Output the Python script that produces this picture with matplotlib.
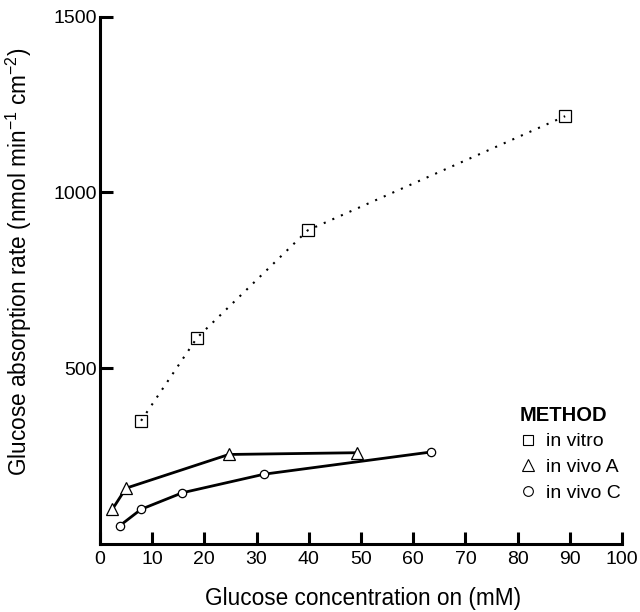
import matplotlib.pyplot as plt
from matplotlib.lines import Line2D

plt.rcParams['font.family'] = ['Liberation Sans', 'DejaVu Sans']

# data
vitro_x = [7.9, 18.6, 39.8, 89.1]
vitro_y = [350, 586, 892, 1217]
vivoA_x = [2.4, 5.0, 24.7, 49.2]
vivoA_y = [98, 158, 254, 259]
vivoC_x = [3.8, 7.9, 15.8, 31.5, 63.4]
vivoC_y = [51, 98, 145, 198, 261]

xticks = list(range(0, 101, 10))
yticks = [500, 1000, 1500]

fig = plt.figure(figsize=(6.4, 6.12), dpi=100)
ax = fig.add_axes([0.156, 0.1116, 0.816, 0.861])

ax.plot(vitro_x, vitro_y, 's', ms=8, mfc='white', mec='black', mew=0.9, zorder=2)
ax.plot(vitro_x, vitro_y, linestyle=(0, (1, 3.5)), color='black', lw=1.5, zorder=3)
ax.plot(vivoA_x, vivoA_y, '-', color='black', lw=2.0,
        marker='^', ms=8.5, mfc='white', mec='black', mew=0.9)
ax.plot(vivoC_x, vivoC_y, '-', color='black', lw=2.0,
        marker='o', ms=6, mfc='white', mec='black', mew=0.9)

ax.set_xlim(0, 100)
ax.set_ylim(0, 1500)
ax.set_xticks(xticks)
ax.set_yticks(yticks)
ax.spines['top'].set_visible(False)
ax.spines['right'].set_visible(False)
for s in ('left', 'bottom'):
    ax.spines[s].set_linewidth(2.2)
ax.tick_params(direction='in', length=9, width=2.2, labelsize=14)
ax.tick_params(axis='x', pad=5)
ax.tick_params(axis='y', pad=2)

ax.set_xlabel('Glucose concentration on (mM)', fontsize=16.3)
ax.set_ylabel('Glucose absorption rate (nmol min$^{\\mathregular{-1}}$ cm$^{\\mathregular{-2}}$)',
              fontsize=16.3)
ax.xaxis.set_label_coords(0.504, -0.082)
ax.yaxis.set_label_coords(-0.126, 0.535)

handles = [
    Line2D([], [], ls='none', marker='s', ms=7.5, mfc='white', mec='black', mew=0.8),
    Line2D([], [], ls='none', marker='^', ms=8.5, mfc='white', mec='black', mew=0.8),
    Line2D([], [], ls='none', marker='o', ms=7, mfc='white', mec='black', mew=0.8),
]
leg = ax.legend(handles, ['in vitro', 'in vivo A', 'in vivo C'], title='METHOD',
                loc='upper left', bbox_to_anchor=(0.803, 0.262), frameon=False,
                fontsize=14, handlelength=0.9, handletextpad=0.5,
                labelspacing=0.42, borderaxespad=0, borderpad=0, alignment='left')
leg.get_title().set_fontweight('bold')
leg.get_title().set_fontsize(14.5)

fig.savefig('out.png', dpi=100)
